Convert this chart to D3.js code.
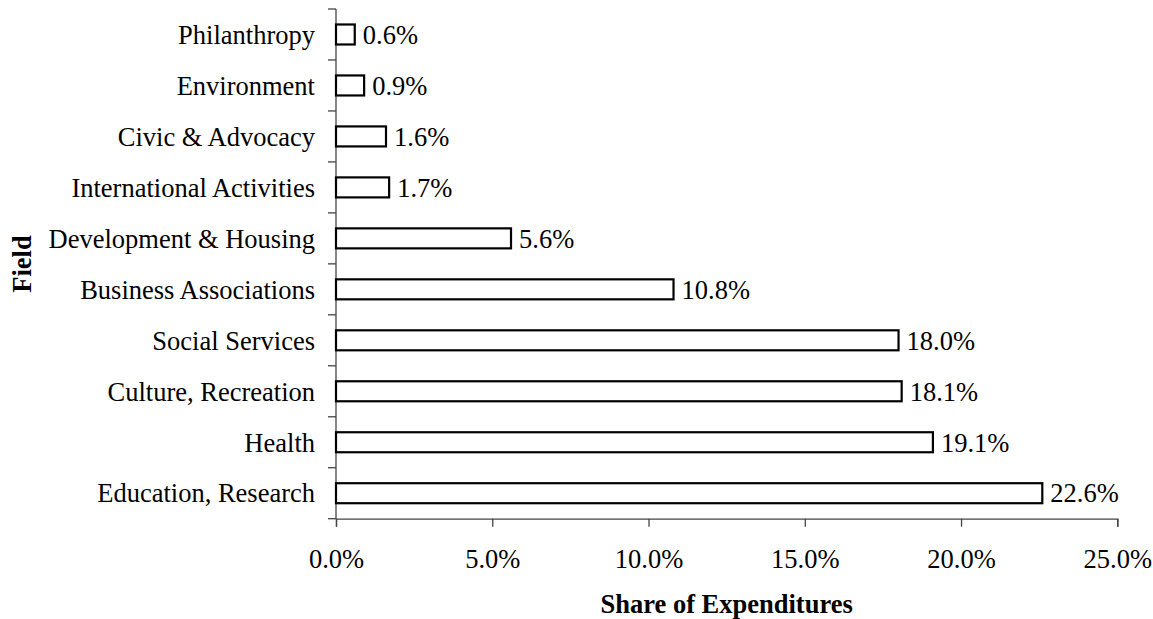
<!DOCTYPE html>
<html>
<head>
<meta charset="utf-8">
<script src="https://cdn.jsdelivr.net/npm/d3@7"></script>
<style>
  html, body { margin: 0; padding: 0; background: #fff; }
  svg text { font-family: "Liberation Serif", "Times New Roman", serif; fill: #000; }
</style>
</head>
<body>
<svg id="chart" width="1153" height="619"></svg>
<script>
// Share of expenditures by field (percent)
const fields = [
  "Philanthropy",
  "Environment",
  "Civic & Advocacy",
  "International Activities",
  "Development & Housing",
  "Business Associations",
  "Social Services",
  "Culture, Recreation",
  "Health",
  "Education, Research"
];
const shares = [0.6, 0.9, 1.6, 1.7, 5.6, 10.8, 18.0, 18.1, 19.1, 22.6];
const xTicks = [0, 5, 10, 15, 20, 25];

const svg = d3.select("#chart");
const plotLeft = 336, plotRight = 1117.3, plotTop = 9, plotBottom = 518.7;

const x = d3.scaleLinear().domain([0, 25]).range([plotLeft, plotRight]);
const y = d3.scaleBand().domain(fields).range([plotTop, plotBottom]).paddingInner(0).paddingOuter(0);

const barH = 20;
const fontSize = 26.5;
const axisColor = "#444";

// y axis line with ticks at category boundaries
svg.append("line")
  .attr("x1", plotLeft).attr("x2", plotLeft)
  .attr("y1", plotTop).attr("y2", plotBottom)
  .attr("stroke", axisColor).attr("stroke-width", 1.3);

const boundaries = fields.map(f => y(f)).concat([plotBottom]);
svg.append("g").selectAll("line").data(boundaries).join("line")
  .attr("x1", plotLeft - 8).attr("x2", plotLeft)
  .attr("y1", d => d).attr("y2", d => d)
  .attr("stroke", axisColor).attr("stroke-width", 1.3);

// x axis
const xAxis = d3.axisBottom(x)
  .tickValues(xTicks)
  .tickSize(8)
  .tickPadding(22)
  .tickFormat(d => d3.format(".1f")(d) + "%");
const gx = svg.append("g").attr("transform", `translate(0,${plotBottom})`).call(xAxis);
gx.select(".domain").attr("stroke", axisColor).attr("stroke-width", 1.3);
gx.selectAll(".tick line").attr("stroke", axisColor).attr("stroke-width", 1.3);
gx.selectAll(".tick text")
  .attr("font-family", "Liberation Serif, Times New Roman, serif")
  .attr("font-size", fontSize).attr("fill", "#000");

// category labels
svg.append("g").selectAll("text").data(fields).join("text")
  .attr("x", plotLeft - 21)
  .attr("y", d => y(d) + y.bandwidth() / 2)
  .attr("dy", "0.35em")
  .attr("text-anchor", "end")
  .attr("font-size", fontSize)
  .text(d => d);

// bars
svg.append("g").selectAll("rect").data(fields).join("rect")
  .attr("x", x(0))
  .attr("y", d => y(d) + y.bandwidth() / 2 - barH / 2)
  .attr("width", (d, i) => x(shares[i]) - x(0))
  .attr("height", barH)
  .attr("fill", "#fff")
  .attr("stroke", "#000")
  .attr("stroke-width", 2.2);

// value labels
svg.append("g").selectAll("text").data(fields).join("text")
  .attr("x", (d, i) => x(shares[i]) + 8)
  .attr("y", d => y(d) + y.bandwidth() / 2)
  .attr("dy", "0.35em")
  .attr("font-size", fontSize)
  .text((d, i) => shares[i].toFixed(1) + "%");

// axis titles
svg.append("text")
  .attr("x", (x(0) + x(25)) / 2)
  .attr("y", 613)
  .attr("text-anchor", "middle")
  .attr("font-size", fontSize)
  .attr("font-weight", "bold")
  .text("Share of Expenditures");

svg.append("text")
  .attr("transform", `translate(31,264) rotate(-90)`)
  .attr("text-anchor", "middle")
  .attr("font-size", fontSize)
  .attr("font-weight", "bold")
  .text("Field");
</script>
</body>
</html>
